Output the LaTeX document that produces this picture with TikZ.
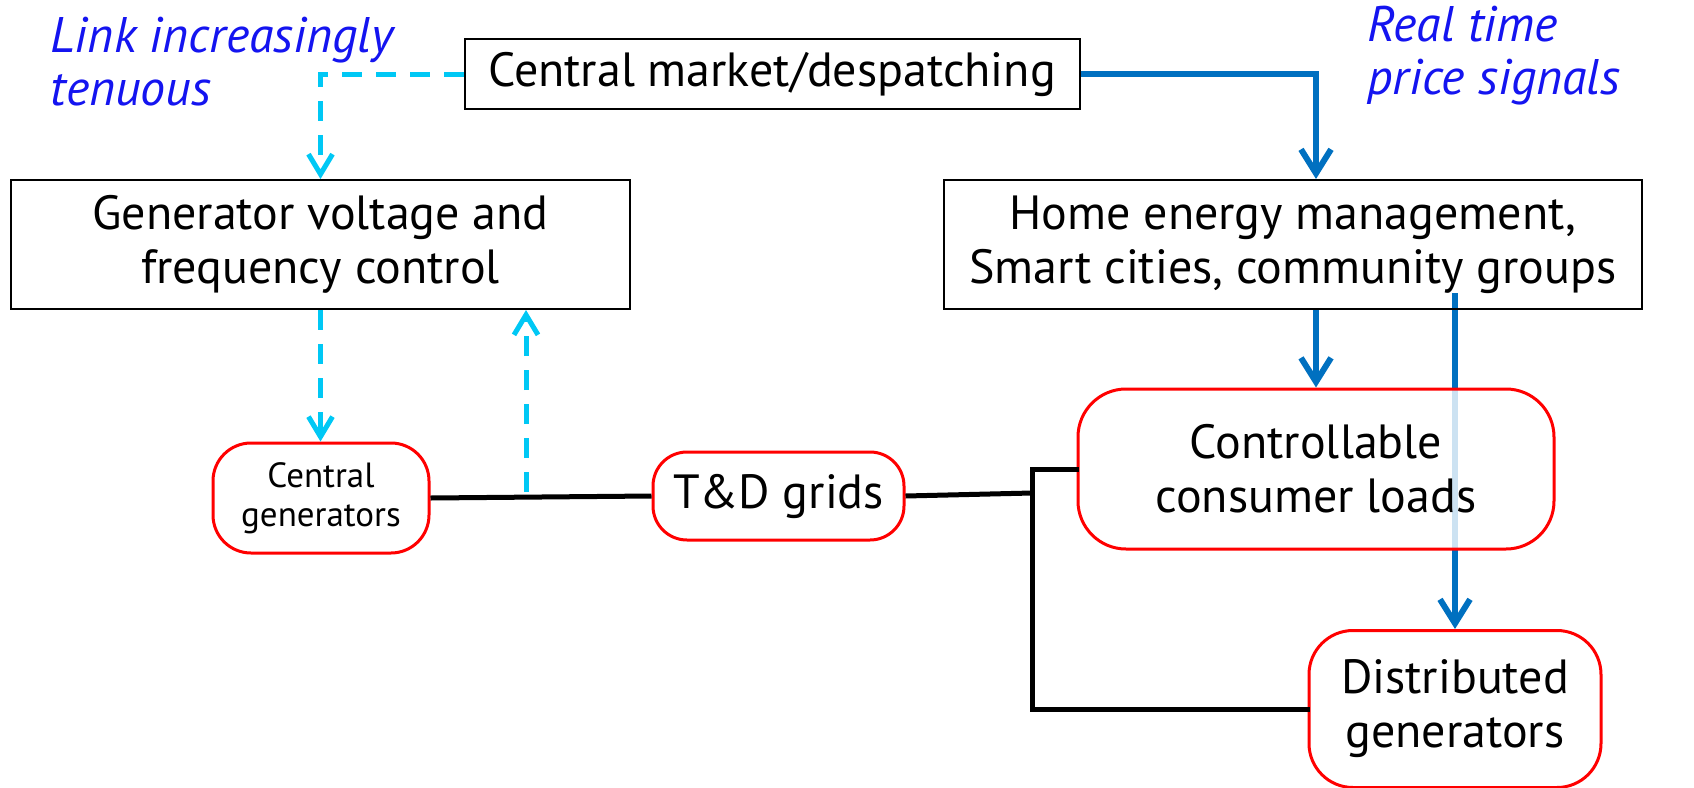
\documentclass[tikz,border=0pt]{standalone}
\usepackage{fontspec}
\setmainfont{PT Sans}
\usetikzlibrary{arrows.meta}
\definecolor{cyanl}{HTML}{00C8F5}
\definecolor{blu}{HTML}{0070C0}
\definecolor{txtblue}{HTML}{1414F0}
\pgfdeclarelayer{bg}
\pgfsetlayers{bg,main}
\begin{document}
\begin{tikzpicture}[x=0.5pt,y=-0.5pt,
  mainfont/.style={font=\fontsize{24}{27}\selectfont},
  sqbox/.style={draw=black,line width=1pt,inner sep=0pt,align=center,mainfont},
  rrbox/.style={draw=red,line width=1.5pt,inner sep=0pt,align=center,mainfont},
  note/.style={text=txtblue,align=left,inner sep=0pt,font=\fontsize{25}{26.5}\selectfont\itshape},
  cyanlink/.style={draw=cyanl,line width=2.5pt,dash pattern=on 10pt off 7pt,-{Straight Barb[length=10pt,width=12pt,line width=2.5pt]}},
  bluelink/.style={draw=blu,line width=3pt,-{Straight Barb[length=12pt,width=15pt,line width=3pt]}},
  power/.style={draw=black,line width=2.5pt}]
\useasboundingbox (0,0) rectangle (1694,788);

\node[sqbox,minimum width=307.5pt,minimum height=35pt] (market) at (772,74) {Central market/despatching};
\node[sqbox,minimum width=309.5pt,minimum height=64.5pt] (gen) at (320.5,244.5) {Generator voltage and\\frequency control};
\node[sqbox,minimum width=349pt,minimum height=64.5pt] (home) at (1293,244.5) {Home energy management,\\Smart cities, community groups};
\node[rrbox,rounded corners=24pt,minimum width=238pt,minimum height=80pt,fill=white,fill opacity=0.8,text opacity=1] (ctrl) at (1316,469) {Controllable\\consumer loads};
\node[rrbox,rounded corners=22pt,minimum width=146pt,minimum height=78.5pt] (dist) at (1455,709) {Distributed\\generators};
\node[rrbox,rounded corners=19pt,minimum width=108pt,minimum height=55pt,font=\fontsize{17.5}{19.5}\selectfont] (cgen) at (321,498) {Central\\generators};
\node[rrbox,rounded corners=17pt,minimum width=125.5pt,minimum height=44pt] (td) at (778.5,496) {T\&D grids};

\node[note,anchor=north west] (link) at (50,17) {Link increasingly\\tenuous};
\node[note,anchor=north west] (price) at (1367,6) {Real time\\price signals};

\coordinate (tap) at (526,492);
\coordinate (bx) at (1316,0);
\coordinate (b2) at (1455,293);
\coordinate (j1) at (1032,600);
\coordinate (j2) at (1032,493);

% cyan dashed links
\draw[cyanlink] (market.west) -| (gen.north);
\draw[cyanlink] (gen.south) -- (gen.south |- cgen.north);
\draw[cyanlink] (tap) -- (tap |- gen.south);

% power lines
\draw[power] (cgen.east) -- (td.west);
\draw[power] (td.east) -- (j2);
\draw[power,line cap=rect] (ctrl.west) -| (j1) |- (dist.west);

% blue price signals
\draw[bluelink] (market.east) -| (bx |- home.north);
\draw[bluelink] (bx |- home.south) -- (ctrl.north);
\begin{pgfonlayer}{bg}
\draw[bluelink] (b2) -- (dist.north);
\end{pgfonlayer}
\end{tikzpicture}
\end{document}
